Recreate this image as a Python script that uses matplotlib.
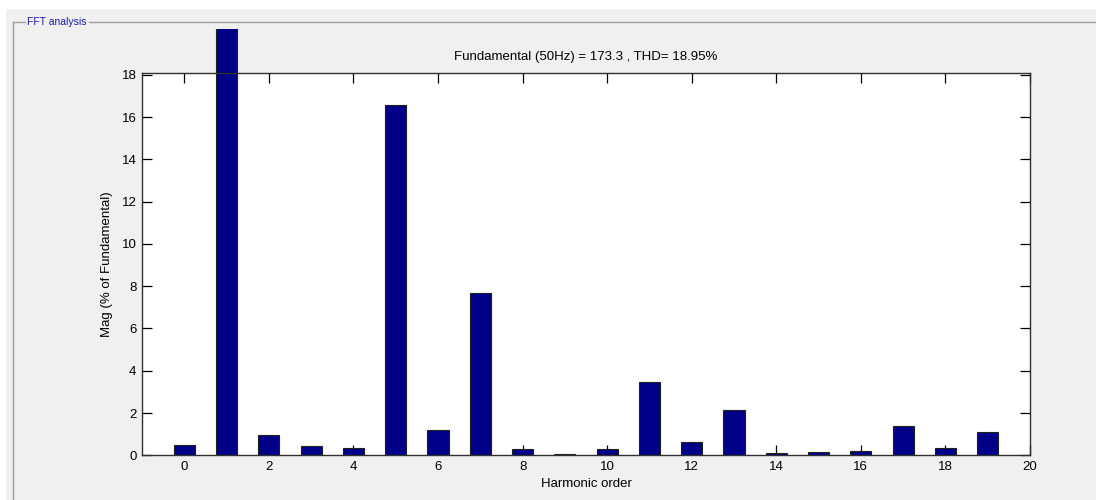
import matplotlib
matplotlib.use("Agg")
import matplotlib.pyplot as plt
from matplotlib.patches import Rectangle
from matplotlib.lines import Line2D

harmonics = list(range(20))
magnitudes = [0.48, 100.0, 0.98, 0.43, 0.33, 16.55, 1.2, 7.68, 0.3, 0.06,
              0.3, 3.48, 0.63, 2.12, 0.1, 0.15, 0.2, 1.4, 0.33, 1.08]
xticks = list(range(0, 21, 2))
yticks = list(range(0, 19, 2))
title_text = "Fundamental (50Hz) = 173.3 , THD= 18.95%"
panel_title = "FFT analysis"

plt.rcParams['font.family'] = ['Liberation Sans', 'DejaVu Sans']

fig = plt.figure(figsize=(10.96, 5.0), dpi=100)
fig.patch.set_facecolor('white')
W, H = 1096, 500

# gray panel background
fig.patches.append(Rectangle((6 / W, 0), 1, 1 - 9 / H, transform=fig.transFigure,
                             facecolor='#f0f0f0', edgecolor='none', zorder=-5))
# group box frame
gy = 1 - 22 / H
gx = 12.5 / W
fig.lines.append(Line2D([gx, 25 / W], [gy, gy], transform=fig.transFigure,
                        color='#a0a0a0', lw=1.0, zorder=-4))
fig.lines.append(Line2D([89 / W, 1], [gy, gy], transform=fig.transFigure,
                        color='#a0a0a0', lw=1.0, zorder=-4))
fig.lines.append(Line2D([gx, gx], [0, gy], transform=fig.transFigure,
                        color='#a0a0a0', lw=1.0, zorder=-4))
fig.text(27 / W, gy, panel_title, color='#1a1aa6', fontsize=7.5,
         va='center', ha='left')

ax = fig.add_axes([142 / W, 1 - 455.3 / H, (1030 - 142) / W, (455.3 - 72.7) / H])
ax.set_zorder(2)
ax.set_facecolor('white')
bars = ax.bar(harmonics, magnitudes, width=0.5, color='#000088',
              edgecolor='#202020', linewidth=0.8, zorder=3)
clip = Rectangle((0, 0), 1, 1.114, transform=ax.transAxes)
for b in bars:
    b.set_clip_path(clip)

ax.set_xlim(-1, 20)
ax.set_ylim(0, 18.1)
ax.set_xticks(xticks)
ax.set_yticks(yticks)
ax.tick_params(direction='in', length=7, width=0.9, top=True, right=True,
               labelsize=9.5, colors='black', pad=4)
for s in ax.spines.values():
    s.set_color('#303030')
    s.set_linewidth(1.0)
    s.set_zorder(4)
ax.set_title(title_text, fontsize=9.5, pad=9)
ax.set_xlabel("Harmonic order", fontsize=9.5, labelpad=4)
ax.set_ylabel("Mag (% of Fundamental)", fontsize=9.5, labelpad=6)

fig.savefig("out.png", dpi=100, facecolor=fig.get_facecolor())
